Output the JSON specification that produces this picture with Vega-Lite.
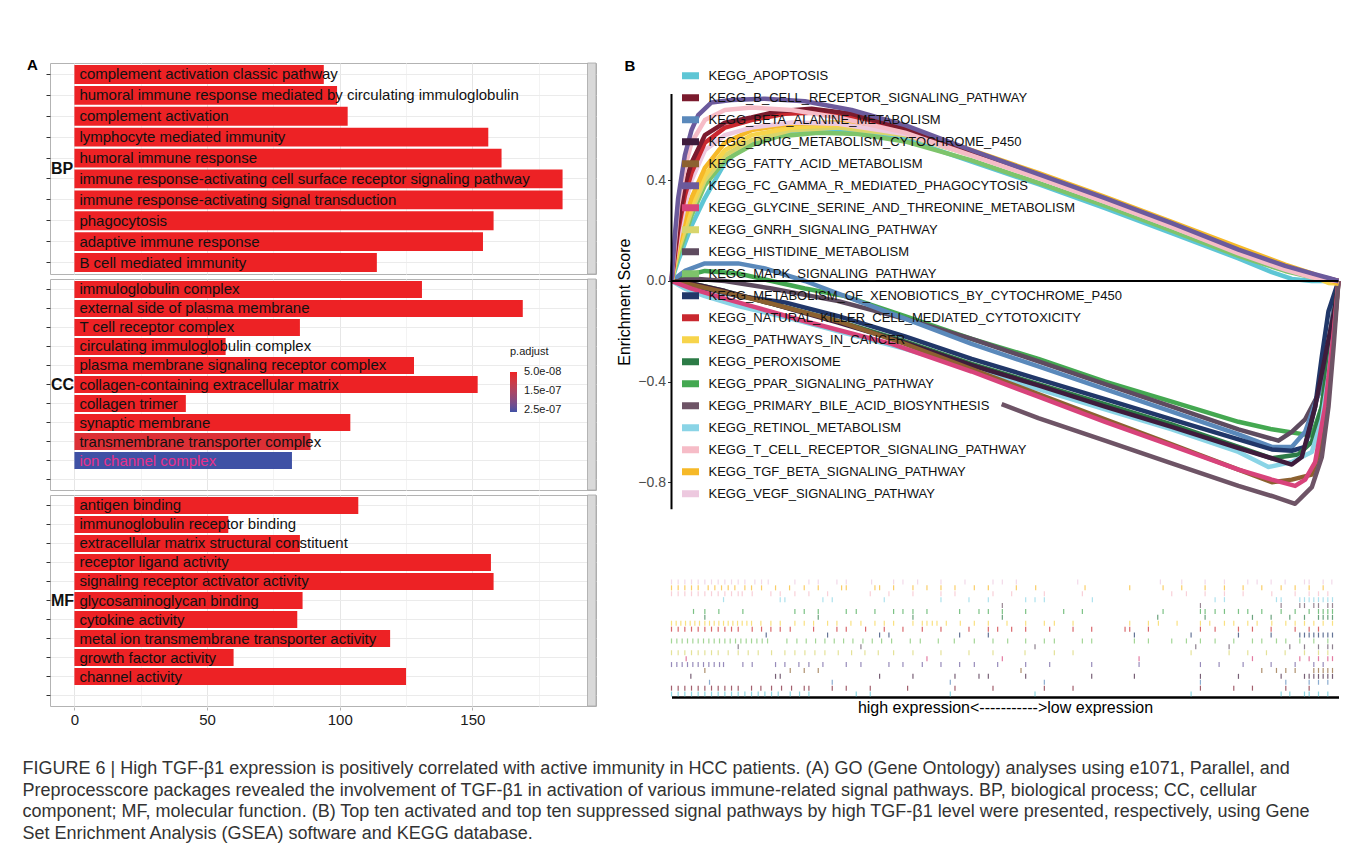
{
"$schema": "https://vega.github.io/schema/vega-lite/v6.json",
"padding": {"left": 22, "top": 57, "right": 5, "bottom": 6},
"background": "white",
"config": {"font": "Liberation Sans", "view": {"stroke": "#b3b3b3"}},
"spacing": 19.5,
"resolve": {"scale": {"color": "independent"}, "legend": {"color": "independent"}},
"title": {"text": ["FIGURE 6 | High TGF-β1 expression is positively correlated with active immunity in HCC patients. (A) GO (Gene Ontology) analyses using e1071, Parallel, and", "Preprocesscore packages revealed the involvement of TGF-β1 in activation of various immune-related signal pathways. BP, biological process; CC, cellular", "component; MF, molecular function. (B) Top ten activated and top ten suppressed signal pathways by high TGF-β1 level were presented, respectively, using Gene", "Set Enrichment Analysis (GSEA) software and KEGG database."], "orient": "bottom", "anchor": "start", "frame": "bounds", "fontSize": 18, "fontWeight": "normal", "color": "#333333", "lineHeight": 21.7, "offset": 33, "dx": -4, "baseline": "top", "limit": 1400},
"datasets": {
"names": [{"k":"APO","name":"KEGG_APOPTOSIS"},{"k":"BCR","name":"KEGG_B_CELL_RECEPTOR_SIGNALING_PATHWAY"},{"k":"BAL","name":"KEGG_BETA_ALANINE_METABOLISM"},{"k":"DRG","name":"KEGG_DRUG_METABOLISM_CYTOCHROME_P450"},{"k":"FAT","name":"KEGG_FATTY_ACID_METABOLISM"},{"k":"FCG","name":"KEGG_FC_GAMMA_R_MEDIATED_PHAGOCYTOSIS"},{"k":"GLY","name":"KEGG_GLYCINE_SERINE_AND_THREONINE_METABOLISM"},{"k":"GNR","name":"KEGG_GNRH_SIGNALING_PATHWAY"},{"k":"HIS","name":"KEGG_HISTIDINE_METABOLISM"},{"k":"MAP","name":"KEGG_MAPK_SIGNALING_PATHWAY"},{"k":"XEN","name":"KEGG_METABOLISM_OF_XENOBIOTICS_BY_CYTOCHROME_P450"},{"k":"NKC","name":"KEGG_NATURAL_KILLER_CELL_MEDIATED_CYTOTOXICITY"},{"k":"PIC","name":"KEGG_PATHWAYS_IN_CANCER"},{"k":"PER","name":"KEGG_PEROXISOME"},{"k":"PPA","name":"KEGG_PPAR_SIGNALING_PATHWAY"},{"k":"PBA","name":"KEGG_PRIMARY_BILE_ACID_BIOSYNTHESIS"},{"k":"RET","name":"KEGG_RETINOL_METABOLISM"},{"k":"TCR","name":"KEGG_T_CELL_RECEPTOR_SIGNALING_PATHWAY"},{"k":"TGF","name":"KEGG_TGF_BETA_SIGNALING_PATHWAY"},{"k":"VEG","name":"KEGG_VEGF_SIGNALING_PATHWAY"}],
"lines": [
{"k":"PPA","r":0,"v":0},{"k":"PPA","r":2,"v":0.02},{"k":"PPA","r":5,"v":0.04},{"k":"PPA","r":10,"v":0.03},{"k":"PPA","r":15,"v":0},{"k":"PPA","r":20,"v":-0.03},{"k":"PPA","r":26,"v":-0.06},{"k":"PPA","r":35,"v":-0.14},{"k":"PPA","r":45,"v":-0.23},{"k":"PPA","r":55,"v":-0.31},{"k":"PPA","r":65,"v":-0.4},{"k":"PPA","r":75,"v":-0.48},{"k":"PPA","r":85,"v":-0.56},{"k":"PPA","r":90,"v":-0.59},{"k":"PPA","r":96,"v":-0.615},{"k":"PPA","r":97.5,"v":-0.5},{"k":"PPA","r":98.5,"v":-0.3},{"k":"PPA","r":99.3,"v":-0.1},{"k":"PPA","r":100,"v":0},
{"k":"HIS","r":0,"v":0},{"k":"HIS","r":3,"v":0.01},{"k":"HIS","r":8,"v":0},{"k":"HIS","r":15,"v":-0.03},{"k":"HIS","r":25,"v":-0.08},{"k":"HIS","r":35,"v":-0.15},{"k":"HIS","r":45,"v":-0.23},{"k":"HIS","r":55,"v":-0.32},{"k":"HIS","r":65,"v":-0.41},{"k":"HIS","r":75,"v":-0.5},{"k":"HIS","r":85,"v":-0.59},{"k":"HIS","r":91,"v":-0.635},{"k":"HIS","r":93,"v":-0.6},{"k":"HIS","r":95,"v":-0.55},{"k":"HIS","r":97,"v":-0.45},{"k":"HIS","r":98.5,"v":-0.25},{"k":"HIS","r":99.5,"v":-0.08},{"k":"HIS","r":100,"v":0},
{"k":"BAL","r":0,"v":0},{"k":"BAL","r":2,"v":0.04},{"k":"BAL","r":5,"v":0.07},{"k":"BAL","r":10,"v":0.07},{"k":"BAL","r":14,"v":0.05},{"k":"BAL","r":20,"v":0},{"k":"BAL","r":28,"v":-0.08},{"k":"BAL","r":35,"v":-0.15},{"k":"BAL","r":45,"v":-0.25},{"k":"BAL","r":55,"v":-0.34},{"k":"BAL","r":65,"v":-0.43},{"k":"BAL","r":75,"v":-0.52},{"k":"BAL","r":85,"v":-0.61},{"k":"BAL","r":90,"v":-0.66},{"k":"BAL","r":93,"v":-0.66},{"k":"BAL","r":95,"v":-0.6},{"k":"BAL","r":97,"v":-0.45},{"k":"BAL","r":98.5,"v":-0.25},{"k":"BAL","r":99.5,"v":-0.08},{"k":"BAL","r":100,"v":0},
{"k":"XEN","r":0,"v":0},{"k":"XEN","r":2,"v":-0.01},{"k":"XEN","r":5,"v":-0.03},{"k":"XEN","r":10,"v":-0.06},{"k":"XEN","r":17,"v":-0.085},{"k":"XEN","r":25,"v":-0.14},{"k":"XEN","r":35,"v":-0.22},{"k":"XEN","r":45,"v":-0.31},{"k":"XEN","r":55,"v":-0.39},{"k":"XEN","r":65,"v":-0.47},{"k":"XEN","r":75,"v":-0.55},{"k":"XEN","r":85,"v":-0.63},{"k":"XEN","r":90,"v":-0.67},{"k":"XEN","r":93,"v":-0.675},{"k":"XEN","r":95,"v":-0.66},{"k":"XEN","r":96.5,"v":-0.5},{"k":"XEN","r":97.5,"v":-0.3},{"k":"XEN","r":98.5,"v":-0.12},{"k":"XEN","r":100,"v":0},
{"k":"PER","r":0,"v":0},{"k":"PER","r":3,"v":-0.01},{"k":"PER","r":8,"v":-0.04},{"k":"PER","r":15,"v":-0.09},{"k":"PER","r":25,"v":-0.16},{"k":"PER","r":35,"v":-0.24},{"k":"PER","r":45,"v":-0.33},{"k":"PER","r":55,"v":-0.41},{"k":"PER","r":65,"v":-0.49},{"k":"PER","r":75,"v":-0.57},{"k":"PER","r":85,"v":-0.66},{"k":"PER","r":90,"v":-0.705},{"k":"PER","r":94,"v":-0.69},{"k":"PER","r":96,"v":-0.64},{"k":"PER","r":97.5,"v":-0.5},{"k":"PER","r":98.5,"v":-0.3},{"k":"PER","r":99.5,"v":-0.1},{"k":"PER","r":100,"v":0},
{"k":"RET","r":0,"v":0},{"k":"RET","r":2,"v":-0.03},{"k":"RET","r":5,"v":-0.06},{"k":"RET","r":10,"v":-0.1},{"k":"RET","r":18,"v":-0.15},{"k":"RET","r":25,"v":-0.2},{"k":"RET","r":35,"v":-0.27},{"k":"RET","r":45,"v":-0.35},{"k":"RET","r":55,"v":-0.43},{"k":"RET","r":65,"v":-0.51},{"k":"RET","r":75,"v":-0.59},{"k":"RET","r":85,"v":-0.68},{"k":"RET","r":89.5,"v":-0.74},{"k":"RET","r":93,"v":-0.72},{"k":"RET","r":96,"v":-0.68},{"k":"RET","r":97.5,"v":-0.55},{"k":"RET","r":98.5,"v":-0.38},{"k":"RET","r":99.3,"v":-0.2},{"k":"RET","r":100,"v":0},
{"k":"DRG","r":0,"v":0},{"k":"DRG","r":3,"v":-0.01},{"k":"DRG","r":8,"v":-0.04},{"k":"DRG","r":15,"v":-0.09},{"k":"DRG","r":25,"v":-0.165},{"k":"DRG","r":35,"v":-0.245},{"k":"DRG","r":45,"v":-0.335},{"k":"DRG","r":55,"v":-0.415},{"k":"DRG","r":65,"v":-0.5},{"k":"DRG","r":75,"v":-0.58},{"k":"DRG","r":85,"v":-0.665},{"k":"DRG","r":90,"v":-0.705},{"k":"DRG","r":93,"v":-0.73},{"k":"DRG","r":94.5,"v":-0.7},{"k":"DRG","r":95.5,"v":-0.6},{"k":"DRG","r":96.5,"v":-0.5},{"k":"DRG","r":98,"v":-0.3},{"k":"DRG","r":99.5,"v":-0.1},{"k":"DRG","r":100,"v":0},
{"k":"FAT","r":0,"v":0},{"k":"FAT","r":3,"v":-0.015},{"k":"FAT","r":8,"v":-0.045},{"k":"FAT","r":15,"v":-0.09},{"k":"FAT","r":25,"v":-0.16},{"k":"FAT","r":35,"v":-0.25},{"k":"FAT","r":45,"v":-0.35},{"k":"FAT","r":55,"v":-0.45},{"k":"FAT","r":65,"v":-0.55},{"k":"FAT","r":75,"v":-0.65},{"k":"FAT","r":85,"v":-0.75},{"k":"FAT","r":90,"v":-0.8},{"k":"FAT","r":93,"v":-0.79},{"k":"FAT","r":96,"v":-0.77},{"k":"FAT","r":97.5,"v":-0.65},{"k":"FAT","r":98.5,"v":-0.45},{"k":"FAT","r":99.5,"v":-0.15},{"k":"FAT","r":100,"v":0},
{"k":"GLY","r":0,"v":0},{"k":"GLY","r":3,"v":-0.03},{"k":"GLY","r":8,"v":-0.07},{"k":"GLY","r":12,"v":-0.1},{"k":"GLY","r":20,"v":-0.16},{"k":"GLY","r":33,"v":-0.25},{"k":"GLY","r":45,"v":-0.36},{"k":"GLY","r":55,"v":-0.46},{"k":"GLY","r":65,"v":-0.56},{"k":"GLY","r":75,"v":-0.655},{"k":"GLY","r":85,"v":-0.75},{"k":"GLY","r":90,"v":-0.79},{"k":"GLY","r":93.5,"v":-0.815},{"k":"GLY","r":95,"v":-0.79},{"k":"GLY","r":96.5,"v":-0.72},{"k":"GLY","r":98,"v":-0.5},{"k":"GLY","r":99.3,"v":-0.2},{"k":"GLY","r":100,"v":0},
{"k":"PBA","r":49.5,"v":-0.49},{"k":"PBA","r":55,"v":-0.545},{"k":"PBA","r":65,"v":-0.635},{"k":"PBA","r":75,"v":-0.725},{"k":"PBA","r":85,"v":-0.815},{"k":"PBA","r":90,"v":-0.855},{"k":"PBA","r":93.5,"v":-0.886},{"k":"PBA","r":94.5,"v":-0.86},{"k":"PBA","r":96,"v":-0.82},{"k":"PBA","r":97.5,"v":-0.7},{"k":"PBA","r":98.5,"v":-0.5},{"k":"PBA","r":99.3,"v":-0.25},{"k":"PBA","r":100,"v":0},
{"k":"APO","r":0,"v":0},{"k":"APO","r":0.5,"v":0.04},{"k":"APO","r":1,"v":0.08},{"k":"APO","r":2,"v":0.15},{"k":"APO","r":3,"v":0.22},{"k":"APO","r":5,"v":0.33},{"k":"APO","r":8,"v":0.47},{"k":"APO","r":11,"v":0.54},{"k":"APO","r":15,"v":0.58},{"k":"APO","r":20,"v":0.6},{"k":"APO","r":26,"v":0.6},{"k":"APO","r":35,"v":0.565},{"k":"APO","r":45,"v":0.475},{"k":"APO","r":55,"v":0.385},{"k":"APO","r":65,"v":0.29},{"k":"APO","r":75,"v":0.19},{"k":"APO","r":85,"v":0.09},{"k":"APO","r":90,"v":0.035},{"k":"APO","r":93,"v":0.008},{"k":"APO","r":96,"v":0},{"k":"APO","r":100,"v":0},
{"k":"MAP","r":0,"v":0},{"k":"MAP","r":0.5,"v":0.05},{"k":"MAP","r":1,"v":0.1},{"k":"MAP","r":2,"v":0.18},{"k":"MAP","r":3,"v":0.26},{"k":"MAP","r":5,"v":0.38},{"k":"MAP","r":8,"v":0.48},{"k":"MAP","r":12,"v":0.54},{"k":"MAP","r":16,"v":0.575},{"k":"MAP","r":22,"v":0.59},{"k":"MAP","r":28,"v":0.585},{"k":"MAP","r":35,"v":0.555},{"k":"MAP","r":45,"v":0.48},{"k":"MAP","r":55,"v":0.39},{"k":"MAP","r":65,"v":0.3},{"k":"MAP","r":75,"v":0.2},{"k":"MAP","r":85,"v":0.1},{"k":"MAP","r":92,"v":0.04},{"k":"MAP","r":96,"v":0.015},{"k":"MAP","r":98.5,"v":0.005},{"k":"MAP","r":100,"v":0},
{"k":"GNR","r":0,"v":0},{"k":"GNR","r":0.5,"v":0.06},{"k":"GNR","r":1,"v":0.12},{"k":"GNR","r":2,"v":0.2},{"k":"GNR","r":3,"v":0.28},{"k":"GNR","r":5,"v":0.4},{"k":"GNR","r":8,"v":0.5},{"k":"GNR","r":12,"v":0.56},{"k":"GNR","r":18,"v":0.6},{"k":"GNR","r":25,"v":0.61},{"k":"GNR","r":35,"v":0.58},{"k":"GNR","r":45,"v":0.5},{"k":"GNR","r":55,"v":0.41},{"k":"GNR","r":65,"v":0.32},{"k":"GNR","r":75,"v":0.22},{"k":"GNR","r":85,"v":0.12},{"k":"GNR","r":92,"v":0.05},{"k":"GNR","r":96,"v":0.02},{"k":"GNR","r":98.5,"v":0.005},{"k":"GNR","r":100,"v":0},
{"k":"PIC","r":0,"v":0},{"k":"PIC","r":0.5,"v":0.07},{"k":"PIC","r":1,"v":0.13},{"k":"PIC","r":2,"v":0.22},{"k":"PIC","r":3,"v":0.3},{"k":"PIC","r":5,"v":0.42},{"k":"PIC","r":8,"v":0.52},{"k":"PIC","r":12,"v":0.58},{"k":"PIC","r":18,"v":0.61},{"k":"PIC","r":25,"v":0.62},{"k":"PIC","r":35,"v":0.59},{"k":"PIC","r":45,"v":0.51},{"k":"PIC","r":55,"v":0.42},{"k":"PIC","r":65,"v":0.33},{"k":"PIC","r":75,"v":0.23},{"k":"PIC","r":85,"v":0.13},{"k":"PIC","r":92,"v":0.06},{"k":"PIC","r":96,"v":0.02},{"k":"PIC","r":98.5,"v":-0.008},{"k":"PIC","r":100,"v":-0.01},
{"k":"TGF","r":0,"v":0},{"k":"TGF","r":0.5,"v":0.08},{"k":"TGF","r":1,"v":0.15},{"k":"TGF","r":2,"v":0.25},{"k":"TGF","r":3,"v":0.33},{"k":"TGF","r":5,"v":0.45},{"k":"TGF","r":8,"v":0.55},{"k":"TGF","r":12,"v":0.6},{"k":"TGF","r":18,"v":0.625},{"k":"TGF","r":25,"v":0.63},{"k":"TGF","r":35,"v":0.6},{"k":"TGF","r":45,"v":0.52},{"k":"TGF","r":55,"v":0.43},{"k":"TGF","r":65,"v":0.335},{"k":"TGF","r":75,"v":0.235},{"k":"TGF","r":85,"v":0.135},{"k":"TGF","r":92,"v":0.065},{"k":"TGF","r":96,"v":0.03},{"k":"TGF","r":98.5,"v":0.005},{"k":"TGF","r":100,"v":-0.01},
{"k":"VEG","r":0,"v":0},{"k":"VEG","r":0.5,"v":0.09},{"k":"VEG","r":1,"v":0.17},{"k":"VEG","r":2,"v":0.3},{"k":"VEG","r":3,"v":0.4},{"k":"VEG","r":5,"v":0.52},{"k":"VEG","r":8,"v":0.58},{"k":"VEG","r":12,"v":0.61},{"k":"VEG","r":18,"v":0.63},{"k":"VEG","r":25,"v":0.625},{"k":"VEG","r":35,"v":0.585},{"k":"VEG","r":45,"v":0.5},{"k":"VEG","r":55,"v":0.41},{"k":"VEG","r":65,"v":0.315},{"k":"VEG","r":75,"v":0.215},{"k":"VEG","r":85,"v":0.115},{"k":"VEG","r":92,"v":0.05},{"k":"VEG","r":96,"v":0.02},{"k":"VEG","r":98.5,"v":0.005},{"k":"VEG","r":100,"v":0},
{"k":"NKC","r":0,"v":0},{"k":"NKC","r":0.5,"v":0.1},{"k":"NKC","r":1,"v":0.2},{"k":"NKC","r":2,"v":0.34},{"k":"NKC","r":3,"v":0.43},{"k":"NKC","r":5,"v":0.55},{"k":"NKC","r":8,"v":0.61},{"k":"NKC","r":12,"v":0.64},{"k":"NKC","r":17,"v":0.665},{"k":"NKC","r":22,"v":0.67},{"k":"NKC","r":28,"v":0.645},{"k":"NKC","r":35,"v":0.6},{"k":"NKC","r":45,"v":0.51},{"k":"NKC","r":55,"v":0.415},{"k":"NKC","r":65,"v":0.32},{"k":"NKC","r":75,"v":0.22},{"k":"NKC","r":85,"v":0.115},{"k":"NKC","r":92,"v":0.05},{"k":"NKC","r":96,"v":0.02},{"k":"NKC","r":98.5,"v":0.008},{"k":"NKC","r":100,"v":0},
{"k":"BCR","r":0,"v":0},{"k":"BCR","r":0.5,"v":0.12},{"k":"BCR","r":1,"v":0.22},{"k":"BCR","r":2,"v":0.38},{"k":"BCR","r":3,"v":0.47},{"k":"BCR","r":5,"v":0.58},{"k":"BCR","r":8,"v":0.63},{"k":"BCR","r":12,"v":0.65},{"k":"BCR","r":16,"v":0.675},{"k":"BCR","r":21,"v":0.685},{"k":"BCR","r":27,"v":0.665},{"k":"BCR","r":35,"v":0.605},{"k":"BCR","r":45,"v":0.515},{"k":"BCR","r":55,"v":0.42},{"k":"BCR","r":65,"v":0.325},{"k":"BCR","r":75,"v":0.225},{"k":"BCR","r":85,"v":0.12},{"k":"BCR","r":92,"v":0.055},{"k":"BCR","r":96,"v":0.025},{"k":"BCR","r":98.5,"v":0.01},{"k":"BCR","r":100,"v":0},
{"k":"TCR","r":0,"v":0},{"k":"TCR","r":0.5,"v":0.15},{"k":"TCR","r":1,"v":0.3},{"k":"TCR","r":2,"v":0.45},{"k":"TCR","r":3,"v":0.55},{"k":"TCR","r":5,"v":0.64},{"k":"TCR","r":8,"v":0.68},{"k":"TCR","r":12,"v":0.69},{"k":"TCR","r":18,"v":0.68},{"k":"TCR","r":25,"v":0.65},{"k":"TCR","r":35,"v":0.59},{"k":"TCR","r":45,"v":0.5},{"k":"TCR","r":55,"v":0.41},{"k":"TCR","r":65,"v":0.315},{"k":"TCR","r":75,"v":0.215},{"k":"TCR","r":85,"v":0.11},{"k":"TCR","r":92,"v":0.045},{"k":"TCR","r":96,"v":0.015},{"k":"TCR","r":98.5,"v":0.005},{"k":"TCR","r":100,"v":0},
{"k":"FCG","r":0,"v":0},{"k":"FCG","r":0.5,"v":0.18},{"k":"FCG","r":1,"v":0.33},{"k":"FCG","r":2,"v":0.5},{"k":"FCG","r":3,"v":0.6},{"k":"FCG","r":4,"v":0.66},{"k":"FCG","r":6,"v":0.71},{"k":"FCG","r":9,"v":0.72},{"k":"FCG","r":14,"v":0.725},{"k":"FCG","r":20,"v":0.715},{"k":"FCG","r":27,"v":0.68},{"k":"FCG","r":35,"v":0.62},{"k":"FCG","r":45,"v":0.52},{"k":"FCG","r":55,"v":0.425},{"k":"FCG","r":65,"v":0.33},{"k":"FCG","r":75,"v":0.23},{"k":"FCG","r":85,"v":0.125},{"k":"FCG","r":92,"v":0.06},{"k":"FCG","r":96,"v":0.03},{"k":"FCG","r":98.5,"v":0.012},{"k":"FCG","r":100,"v":0}
],
"rug": [
{"k":"VEG","r":0},{"k":"VEG","r":1},{"k":"VEG","r":2},{"k":"VEG","r":3},{"k":"VEG","r":4},{"k":"VEG","r":5},{"k":"VEG","r":6},{"k":"VEG","r":7},{"k":"VEG","r":8},{"k":"VEG","r":9},{"k":"VEG","r":10},{"k":"VEG","r":11},{"k":"VEG","r":12.5},{"k":"VEG","r":13.5},{"k":"VEG","r":14.5},{"k":"VEG","r":18.5},{"k":"VEG","r":20.6},{"k":"VEG","r":22},{"k":"VEG","r":24.8},{"k":"VEG","r":26.2},{"k":"VEG","r":30},{"k":"VEG","r":33.3},{"k":"VEG","r":34.7},{"k":"VEG","r":36.9},{"k":"VEG","r":40.4},{"k":"VEG","r":44},{"k":"VEG","r":48.2},{"k":"VEG","r":49.6},{"k":"VEG","r":51.7},{"k":"VEG","r":60.9},{"k":"VEG","r":73.3},{"k":"VEG","r":76.5},{"k":"VEG","r":80},{"k":"VEG","r":82.9},{"k":"VEG","r":86.4},{"k":"VEG","r":87.8},{"k":"VEG","r":89.9},{"k":"VEG","r":92},{"k":"VEG","r":94.9},{"k":"VEG","r":95.6},{"k":"VEG","r":97.7},{"k":"VEG","r":99},
{"k":"TGF","r":0},{"k":"TGF","r":1},{"k":"TGF","r":2},{"k":"TGF","r":3},{"k":"TGF","r":4},{"k":"TGF","r":5.5},{"k":"TGF","r":6.5},{"k":"TGF","r":7.5},{"k":"TGF","r":8.5},{"k":"TGF","r":9.5},{"k":"TGF","r":11},{"k":"TGF","r":12},{"k":"TGF","r":13.5},{"k":"TGF","r":15.6},{"k":"TGF","r":17.7},{"k":"TGF","r":19.9},{"k":"TGF","r":22},{"k":"TGF","r":25.5},{"k":"TGF","r":26.2},{"k":"TGF","r":30.5},{"k":"TGF","r":31.2},{"k":"TGF","r":33.3},{"k":"TGF","r":36.2},{"k":"TGF","r":38.3},{"k":"TGF","r":40.4},{"k":"TGF","r":42.5},{"k":"TGF","r":45.4},{"k":"TGF","r":47.5},{"k":"TGF","r":51.7},{"k":"TGF","r":54.6},{"k":"TGF","r":62},{"k":"TGF","r":68.7},{"k":"TGF","r":73.7},{"k":"TGF","r":76.5},{"k":"TGF","r":80},{"k":"TGF","r":82.9},{"k":"TGF","r":85.7},{"k":"TGF","r":88.5},{"k":"TGF","r":91.4},{"k":"TGF","r":93.5},{"k":"TGF","r":95.6},{"k":"TGF","r":97.7},
{"k":"TCR","r":0},{"k":"TCR","r":1},{"k":"TCR","r":2},{"k":"TCR","r":3},{"k":"TCR","r":4},{"k":"TCR","r":5},{"k":"TCR","r":6},{"k":"TCR","r":7},{"k":"TCR","r":8},{"k":"TCR","r":9},{"k":"TCR","r":10},{"k":"TCR","r":10.6},{"k":"TCR","r":12.1},{"k":"TCR","r":14.9},{"k":"TCR","r":16.3},{"k":"TCR","r":18.5},{"k":"TCR","r":20.6},{"k":"TCR","r":23.4},{"k":"TCR","r":29.8},{"k":"TCR","r":32.6},{"k":"TCR","r":36.2},{"k":"TCR","r":40.4},{"k":"TCR","r":42.5},{"k":"TCR","r":48.2},{"k":"TCR","r":51},{"k":"TCR","r":55.9},{"k":"TCR","r":61.6},{"k":"TCR","r":75},{"k":"TCR","r":77.2},{"k":"TCR","r":80},{"k":"TCR","r":82.9},{"k":"TCR","r":85.7},{"k":"TCR","r":90},{"k":"TCR","r":93.5},{"k":"TCR","r":95.6},{"k":"TCR","r":97},{"k":"TCR","r":98.4},
{"k":"RET","r":7.8},{"k":"RET","r":16.3},{"k":"RET","r":17},{"k":"RET","r":22.7},{"k":"RET","r":24.1},{"k":"RET","r":31.9},{"k":"RET","r":40.4},{"k":"RET","r":44.6},{"k":"RET","r":47.5},{"k":"RET","r":53.1},{"k":"RET","r":54.5},{"k":"RET","r":55.9},{"k":"RET","r":63.1},{"k":"RET","r":81.5},{"k":"RET","r":82.9},{"k":"RET","r":90.7},{"k":"RET","r":91.4},{"k":"RET","r":94.2},{"k":"RET","r":94.9},{"k":"RET","r":95.6},{"k":"RET","r":96.3},{"k":"RET","r":97},{"k":"RET","r":97.7},{"k":"RET","r":98.4},{"k":"RET","r":99.1},
{"k":"PBA","r":49.6},{"k":"PBA","r":79.3},{"k":"PBA","r":91.4},{"k":"PBA","r":94.2},{"k":"PBA","r":94.9},{"k":"PBA","r":96.3},{"k":"PBA","r":97},{"k":"PBA","r":98.4},{"k":"PBA","r":99.1},
{"k":"PPA","r":3.3},{"k":"PPA","r":5},{"k":"PPA","r":7.1},{"k":"PPA","r":10.7},{"k":"PPA","r":18.5},{"k":"PPA","r":19.9},{"k":"PPA","r":22},{"k":"PPA","r":26.2},{"k":"PPA","r":27.7},{"k":"PPA","r":30.5},{"k":"PPA","r":33.3},{"k":"PPA","r":34.7},{"k":"PPA","r":36.2},{"k":"PPA","r":38.3},{"k":"PPA","r":43.2},{"k":"PPA","r":46.1},{"k":"PPA","r":47.5},{"k":"PPA","r":49.6},{"k":"PPA","r":53.1},{"k":"PPA","r":58.8},{"k":"PPA","r":61.6},{"k":"PPA","r":73.7},{"k":"PPA","r":79.3},{"k":"PPA","r":80},{"k":"PPA","r":81.5},{"k":"PPA","r":82.9},{"k":"PPA","r":85},{"k":"PPA","r":86.4},{"k":"PPA","r":88.5},{"k":"PPA","r":91.4},{"k":"PPA","r":93.5},{"k":"PPA","r":95.6},{"k":"PPA","r":97},{"k":"PPA","r":97.7},{"k":"PPA","r":98.4},{"k":"PPA","r":99.1},
{"k":"PER","r":5},{"k":"PER","r":22},{"k":"PER","r":36.2},{"k":"PER","r":49.6},{"k":"PER","r":72.9},{"k":"PER","r":80},{"k":"PER","r":87.1},{"k":"PER","r":89.9},{"k":"PER","r":92.7},{"k":"PER","r":94.9},{"k":"PER","r":97},{"k":"PER","r":97.7},{"k":"PER","r":98.4},{"k":"PER","r":99.1},
{"k":"PIC","r":0},{"k":"PIC","r":0.7},{"k":"PIC","r":1.4},{"k":"PIC","r":2.1},{"k":"PIC","r":2.8},{"k":"PIC","r":3.5},{"k":"PIC","r":4.2},{"k":"PIC","r":5},{"k":"PIC","r":5.7},{"k":"PIC","r":6.4},{"k":"PIC","r":7.1},{"k":"PIC","r":7.8},{"k":"PIC","r":8.5},{"k":"PIC","r":9.2},{"k":"PIC","r":9.9},{"k":"PIC","r":10.6},{"k":"PIC","r":11.3},{"k":"PIC","r":12},{"k":"PIC","r":13.4},{"k":"PIC","r":14.9},{"k":"PIC","r":16.3},{"k":"PIC","r":18.5},{"k":"PIC","r":19.9},{"k":"PIC","r":21.3},{"k":"PIC","r":23.4},{"k":"PIC","r":24.8},{"k":"PIC","r":26.9},{"k":"PIC","r":28.4},{"k":"PIC","r":30.5},{"k":"PIC","r":31.9},{"k":"PIC","r":33.3},{"k":"PIC","r":36.2},{"k":"PIC","r":37.6},{"k":"PIC","r":38.3},{"k":"PIC","r":39.1},{"k":"PIC","r":39.8},{"k":"PIC","r":41.2},{"k":"PIC","r":43.3},{"k":"PIC","r":45.4},{"k":"PIC","r":47.5},{"k":"PIC","r":50.3},{"k":"PIC","r":53.1},{"k":"PIC","r":55.9},{"k":"PIC","r":57.4},{"k":"PIC","r":60.2},{"k":"PIC","r":68.7},{"k":"PIC","r":71.5},{"k":"PIC","r":73},{"k":"PIC","r":75.8},{"k":"PIC","r":79.3},{"k":"PIC","r":80.7},{"k":"PIC","r":82.9},{"k":"PIC","r":84.3},{"k":"PIC","r":86.4},{"k":"PIC","r":87.8},{"k":"PIC","r":90},{"k":"PIC","r":92.1},{"k":"PIC","r":93.5},{"k":"PIC","r":94.9},{"k":"PIC","r":96.3},{"k":"PIC","r":97.7},{"k":"PIC","r":99.1},
{"k":"NKC","r":0},{"k":"NKC","r":1},{"k":"NKC","r":2},{"k":"NKC","r":3},{"k":"NKC","r":4},{"k":"NKC","r":5},{"k":"NKC","r":6},{"k":"NKC","r":7},{"k":"NKC","r":8},{"k":"NKC","r":9},{"k":"NKC","r":10},{"k":"NKC","r":12.1},{"k":"NKC","r":13.5},{"k":"NKC","r":14.9},{"k":"NKC","r":16.3},{"k":"NKC","r":17.8},{"k":"NKC","r":21.3},{"k":"NKC","r":24.8},{"k":"NKC","r":26.2},{"k":"NKC","r":29.1},{"k":"NKC","r":31.9},{"k":"NKC","r":34.7},{"k":"NKC","r":37.6},{"k":"NKC","r":40.4},{"k":"NKC","r":44.6},{"k":"NKC","r":47.5},{"k":"NKC","r":48.9},{"k":"NKC","r":51},{"k":"NKC","r":53.1},{"k":"NKC","r":56.7},{"k":"NKC","r":60.2},{"k":"NKC","r":63},{"k":"NKC","r":68},{"k":"NKC","r":68.7},{"k":"NKC","r":71.5},{"k":"NKC","r":79.3},{"k":"NKC","r":81.5},{"k":"NKC","r":85},{"k":"NKC","r":87.1},{"k":"NKC","r":89.9},{"k":"NKC","r":93.5},{"k":"NKC","r":95.6},{"k":"NKC","r":97},
{"k":"XEN","r":14.2},{"k":"XEN","r":23.4},{"k":"XEN","r":31.2},{"k":"XEN","r":32.6},{"k":"XEN","r":43.2},{"k":"XEN","r":47.5},{"k":"XEN","r":69.4},{"k":"XEN","r":77.9},{"k":"XEN","r":85},{"k":"XEN","r":89.9},{"k":"XEN","r":94.2},{"k":"XEN","r":94.9},{"k":"XEN","r":95.6},{"k":"XEN","r":96.3},{"k":"XEN","r":97},{"k":"XEN","r":97.7},{"k":"XEN","r":98.4},{"k":"XEN","r":99.1},
{"k":"MAP","r":0},{"k":"MAP","r":0.8},{"k":"MAP","r":1.6},{"k":"MAP","r":2.4},{"k":"MAP","r":3.2},{"k":"MAP","r":4},{"k":"MAP","r":4.8},{"k":"MAP","r":5.6},{"k":"MAP","r":6.4},{"k":"MAP","r":7.2},{"k":"MAP","r":8},{"k":"MAP","r":8.8},{"k":"MAP","r":9.6},{"k":"MAP","r":10.4},{"k":"MAP","r":11.2},{"k":"MAP","r":12},{"k":"MAP","r":12.8},{"k":"MAP","r":13.6},{"k":"MAP","r":14.4},{"k":"MAP","r":17.3},{"k":"MAP","r":18.8},{"k":"MAP","r":20.2},{"k":"MAP","r":21.6},{"k":"MAP","r":23},{"k":"MAP","r":24.4},{"k":"MAP","r":25.8},{"k":"MAP","r":27.2},{"k":"MAP","r":28.7},{"k":"MAP","r":30.1},{"k":"MAP","r":31.5},{"k":"MAP","r":33},{"k":"MAP","r":35.8},{"k":"MAP","r":37.3},{"k":"MAP","r":40},{"k":"MAP","r":42.4},{"k":"MAP","r":45.4},{"k":"MAP","r":48.2},{"k":"MAP","r":50.4},{"k":"MAP","r":53.1},{"k":"MAP","r":55.9},{"k":"MAP","r":57.4},{"k":"MAP","r":61.6},{"k":"MAP","r":63},{"k":"MAP","r":69.4},{"k":"MAP","r":71.5},{"k":"MAP","r":75},{"k":"MAP","r":77.2},{"k":"MAP","r":79.3},{"k":"MAP","r":81.5},{"k":"MAP","r":84.3},{"k":"MAP","r":87.1},{"k":"MAP","r":88.5},{"k":"MAP","r":90.7},{"k":"MAP","r":92.1},{"k":"MAP","r":94.2},{"k":"MAP","r":96.3},{"k":"MAP","r":98.4},
{"k":"HIS","r":10},{"k":"HIS","r":28.4},{"k":"HIS","r":54.5},{"k":"HIS","r":78.6},{"k":"HIS","r":83.6},{"k":"HIS","r":92.7},{"k":"HIS","r":94.9},{"k":"HIS","r":97},{"k":"HIS","r":98.4},{"k":"HIS","r":99.1},
{"k":"GNR","r":0},{"k":"GNR","r":1},{"k":"GNR","r":2},{"k":"GNR","r":3},{"k":"GNR","r":4},{"k":"GNR","r":5},{"k":"GNR","r":6},{"k":"GNR","r":7},{"k":"GNR","r":8.5},{"k":"GNR","r":10},{"k":"GNR","r":11.5},{"k":"GNR","r":13},{"k":"GNR","r":15},{"k":"GNR","r":17},{"k":"GNR","r":18.5},{"k":"GNR","r":20},{"k":"GNR","r":21.5},{"k":"GNR","r":23},{"k":"GNR","r":25},{"k":"GNR","r":27},{"k":"GNR","r":29},{"k":"GNR","r":31},{"k":"GNR","r":33.3},{"k":"GNR","r":36.2},{"k":"GNR","r":40.4},{"k":"GNR","r":44.6},{"k":"GNR","r":48.2},{"k":"GNR","r":53},{"k":"GNR","r":57.4},{"k":"GNR","r":60.2},{"k":"GNR","r":77.9},{"k":"GNR","r":83.6},{"k":"GNR","r":86.4},{"k":"GNR","r":89.2},{"k":"GNR","r":92},{"k":"GNR","r":94.9},{"k":"GNR","r":97},{"k":"GNR","r":98.4},
{"k":"GLY","r":2.2},{"k":"GLY","r":38.3},{"k":"GLY","r":49.6},{"k":"GLY","r":70.1},{"k":"GLY","r":87.1},{"k":"GLY","r":94.2},{"k":"GLY","r":95.6},{"k":"GLY","r":97},{"k":"GLY","r":98.4},{"k":"GLY","r":99.1},
{"k":"FCG","r":0},{"k":"FCG","r":0.8},{"k":"FCG","r":1.6},{"k":"FCG","r":2.4},{"k":"FCG","r":3.2},{"k":"FCG","r":4},{"k":"FCG","r":4.8},{"k":"FCG","r":5.6},{"k":"FCG","r":6.4},{"k":"FCG","r":7.2},{"k":"FCG","r":7.8},{"k":"FCG","r":10.7},{"k":"FCG","r":12.1},{"k":"FCG","r":15.6},{"k":"FCG","r":17},{"k":"FCG","r":19.1},{"k":"FCG","r":20.6},{"k":"FCG","r":22.7},{"k":"FCG","r":26.2},{"k":"FCG","r":28.4},{"k":"FCG","r":32.6},{"k":"FCG","r":34.7},{"k":"FCG","r":37.6},{"k":"FCG","r":40.4},{"k":"FCG","r":43.2},{"k":"FCG","r":45.4},{"k":"FCG","r":48.9},{"k":"FCG","r":53.1},{"k":"FCG","r":56.7},{"k":"FCG","r":63},{"k":"FCG","r":70.1},{"k":"FCG","r":79.3},{"k":"FCG","r":82.1},{"k":"FCG","r":85.7},{"k":"FCG","r":89.9},{"k":"FCG","r":93.5},{"k":"FCG","r":96.3},{"k":"FCG","r":97.7},
{"k":"FAT","r":5},{"k":"FAT","r":17.8},{"k":"FAT","r":19.9},{"k":"FAT","r":22},{"k":"FAT","r":52.4},{"k":"FAT","r":88.5},{"k":"FAT","r":90.7},{"k":"FAT","r":92.1},{"k":"FAT","r":93.5},{"k":"FAT","r":96.3},{"k":"FAT","r":97},{"k":"FAT","r":97.7},{"k":"FAT","r":98.4},{"k":"FAT","r":99.1},
{"k":"DRG","r":2.9},{"k":"DRG","r":15.6},{"k":"DRG","r":16.3},{"k":"DRG","r":31.2},{"k":"DRG","r":36.2},{"k":"DRG","r":42.5},{"k":"DRG","r":46.1},{"k":"DRG","r":47.5},{"k":"DRG","r":53.1},{"k":"DRG","r":63},{"k":"DRG","r":69.4},{"k":"DRG","r":79.3},{"k":"DRG","r":85},{"k":"DRG","r":91.4},{"k":"DRG","r":94.9},{"k":"DRG","r":95.6},{"k":"DRG","r":96.3},{"k":"DRG","r":97},{"k":"DRG","r":97.7},{"k":"DRG","r":98.4},{"k":"DRG","r":99.1},
{"k":"BAL","r":5.7},{"k":"BAL","r":24.1},{"k":"BAL","r":41.8},{"k":"BAL","r":55.9},{"k":"BAL","r":79.3},{"k":"BAL","r":92.1},{"k":"BAL","r":95.6},{"k":"BAL","r":97},{"k":"BAL","r":98.4},
{"k":"BCR","r":0},{"k":"BCR","r":1},{"k":"BCR","r":2},{"k":"BCR","r":3},{"k":"BCR","r":4},{"k":"BCR","r":5},{"k":"BCR","r":6},{"k":"BCR","r":7},{"k":"BCR","r":8},{"k":"BCR","r":9},{"k":"BCR","r":10},{"k":"BCR","r":12},{"k":"BCR","r":13.4},{"k":"BCR","r":15},{"k":"BCR","r":16.5},{"k":"BCR","r":18},{"k":"BCR","r":19.9},{"k":"BCR","r":20.6},{"k":"BCR","r":24.1},{"k":"BCR","r":26.2},{"k":"BCR","r":29.8},{"k":"BCR","r":35.4},{"k":"BCR","r":42.5},{"k":"BCR","r":48.2},{"k":"BCR","r":55.9},{"k":"BCR","r":60.2},{"k":"BCR","r":79.3},{"k":"BCR","r":84.3},{"k":"BCR","r":87.1},{"k":"BCR","r":92.1},{"k":"BCR","r":95.6},
{"k":"APO","r":0},{"k":"APO","r":1},{"k":"APO","r":2},{"k":"APO","r":3},{"k":"APO","r":4},{"k":"APO","r":5},{"k":"APO","r":6},{"k":"APO","r":7},{"k":"APO","r":8},{"k":"APO","r":9},{"k":"APO","r":10},{"k":"APO","r":11},{"k":"APO","r":12},{"k":"APO","r":13},{"k":"APO","r":14},{"k":"APO","r":15},{"k":"APO","r":16},{"k":"APO","r":17.8},{"k":"APO","r":19.2},{"k":"APO","r":20.6},{"k":"APO","r":27.7},{"k":"APO","r":29.8},{"k":"APO","r":41.8},{"k":"APO","r":54.5},{"k":"APO","r":77.9},{"k":"APO","r":91.4},{"k":"APO","r":92.7},{"k":"APO","r":94.9},{"k":"APO","r":95.6},{"k":"APO","r":97},{"k":"APO","r":98.4}
]
},
"hconcat": [
{
"data": {"values": [
{"cat":"BP","term":"complement activation classic pathway","n":94,"p":5e-8},
{"cat":"BP","term":"humoral immune response mediated by circulating immuloglobulin","n":99,"p":5e-8},
{"cat":"BP","term":"complement activation","n":103,"p":5e-8},
{"cat":"BP","term":"lymphocyte mediated immunity","n":156,"p":5e-8},
{"cat":"BP","term":"humoral immune response","n":161,"p":5e-8},
{"cat":"BP","term":"immune response-activating cell surface receptor signaling pathway","n":184,"p":5e-8},
{"cat":"BP","term":"immune response-activating signal transduction","n":184,"p":5e-8},
{"cat":"BP","term":"phagocytosis","n":158,"p":5e-8},
{"cat":"BP","term":"adaptive immune response","n":154,"p":5e-8},
{"cat":"BP","term":"B cell mediated immunity","n":114,"p":5e-8},
{"cat":"CC","term":"immuloglobulin complex","n":131,"p":5e-8},
{"cat":"CC","term":"external side of plasma membrane","n":169,"p":5e-8},
{"cat":"CC","term":"T cell receptor complex","n":85,"p":5e-8},
{"cat":"CC","term":"circulating immuloglobulin complex","n":57,"p":5e-8},
{"cat":"CC","term":"plasma membrane signaling receptor complex","n":128,"p":5e-8},
{"cat":"CC","term":"collagen-containing extracellular matrix","n":152,"p":5e-8},
{"cat":"CC","term":"collagen trimer","n":42,"p":5e-8},
{"cat":"CC","term":"synaptic membrane","n":104,"p":5e-8},
{"cat":"CC","term":"transmembrane transporter complex","n":89,"p":7.5e-8},
{"cat":"CC","term":"ion channel complex","n":82,"p":2.6e-7},
{"cat":"MF","term":"antigen binding","n":107,"p":5e-8},
{"cat":"MF","term":"immunoglobulin receptor binding","n":58,"p":5e-8},
{"cat":"MF","term":"extracellular matrix structural constituent","n":85,"p":5e-8},
{"cat":"MF","term":"receptor ligand activity","n":157,"p":5e-8},
{"cat":"MF","term":"signaling receptor activator activity","n":158,"p":5e-8},
{"cat":"MF","term":"glycosaminoglycan binding","n":86,"p":5e-8},
{"cat":"MF","term":"cytokine activity","n":84,"p":5e-8},
{"cat":"MF","term":"metal ion transmembrane transporter activity","n":119,"p":5e-8},
{"cat":"MF","term":"growth factor activity","n":60,"p":5e-8},
{"cat":"MF","term":"channel activity","n":125,"p":5e-8}
]},
"facet": {"row": {"field": "cat", "type": "nominal", "header": null}},
"spacing": 3,
"resolve": {"scale": {"y": "independent"}},
"spec": {
"width": 546, "height": 211,
"layer": [
{"mark": {"type": "bar"},
 "encoding": {
  "y": {"field": "term", "type": "nominal", "sort": null, "scale": {"paddingInner": 0.1, "paddingOuter": 0.1}, "axis": {"title": null, "labels": false, "domain": false, "ticks": true, "tickColor": "#333333", "tickSize": 4, "grid": true, "gridColor": "#ebebeb", "bandPosition": 0.5}},
  "x": {"field": "n", "type": "quantitative", "scale": {"domain": [-9.2, 196.6], "nice": false, "zero": false}, "axis": {"title": null, "values": [0, 25, 50, 75, 100, 125, 150, 175], "labelExpr": "datum.value % 50 == 0 ? datum.label : ''", "grid": true, "gridColor": {"condition": {"test": "datum.value % 50 == 0", "value": "#e6e6e6"}, "value": "#f3f3f3"}, "tickOpacity": {"condition": {"test": "datum.value % 50 == 0", "value": 1}, "value": 0}, "tickColor": "#b3b3b3", "tickSize": 3, "domain": false, "labelFontSize": 15, "labelColor": "#1a1a1a", "labelPadding": 2}},
  "x2": {"datum": 0},
  "color": {"field": "p", "type": "quantitative", "scale": {"domain": [2.6e-7, 4.8e-8], "range": ["#3f51a5", "#ee2024"], "interpolate": "lab"}, "legend": {"title": "p.adjust", "orient": "none", "legendX": 460, "legendY": 283, "values": [5e-8, 1.5e-7, 2.5e-7], "labelExpr": "replace(format(datum.value, '.1e'), 'e-', 'e-0')", "gradientLength": 40, "gradientThickness": 7, "gradientStrokeWidth": 0, "titleFontSize": 11, "titleFontWeight": "normal", "titleColor": "#1a1a1a", "titlePadding": 15, "labelFontSize": 11, "labelColor": "#1a1a1a", "labelOffset": 7}}
 }},
{"mark": {"type": "text", "align": "left", "baseline": "middle", "dx": 5, "fontSize": 15},
 "encoding": {
  "y": {"field": "term", "type": "nominal", "sort": null},
  "x": {"datum": 0, "type": "quantitative"},
  "text": {"field": "term"},
  "color": {"condition": {"test": "datum.p > 2e-7", "value": "#e8308a"}, "value": "#111111"}
 }},
{"transform": [{"aggregate": [{"op": "count", "as": "cnt"}], "groupby": ["cat"]}],
 "mark": {"type": "text", "align": "left", "baseline": "middle", "dx": 1, "fontSize": 16, "fontWeight": "bold", "color": "#111111"},
 "encoding": {"x": {"datum": -9.2, "type": "quantitative"}, "text": {"field": "cat"}}},
{"transform": [{"aggregate": [{"op": "count", "as": "cnt"}], "groupby": ["cat"]}, {"filter": "datum.cat == 'BP'"}],
 "mark": {"type": "text", "text": "A", "align": "left", "baseline": "middle", "dx": -23, "dy": -9, "fontSize": 15, "fontWeight": "bold", "color": "black"},
 "encoding": {"x": {"datum": -9.2, "type": "quantitative"}, "y": {"datum": "complement activation classic pathway", "type": "nominal"}}},
{"transform": [{"aggregate": [{"op": "count", "as": "cnt"}], "groupby": ["cat"]}],
 "mark": {"type": "rect", "color": "#d9d9d9", "stroke": "#a6a6a6", "strokeWidth": 0.8},
 "encoding": {"x": {"datum": 193.4, "type": "quantitative"}, "x2": {"datum": 196.6}}}
]
}
},
{
"spacing": 69,
"bounds": "flush",
"resolve": {"scale": {"color": "independent"}, "legend": {"color": "independent"}},
"vconcat": [
{
"width": 667, "height": 446.3,
"view": {"stroke": null},
"layer": [
{"data": {"name": "lines"},
 "transform": [{"lookup": "k", "from": {"data": {"name": "names"}, "key": "k", "fields": ["name"]}}],
 "mark": {"type": "line", "strokeWidth": 4.5, "strokeJoin": "round"},
 "encoding": {
  "x": {"field": "r", "type": "quantitative", "scale": {"domain": [0, 100], "nice": false, "zero": false}, "axis": null},
  "y": {"field": "v", "type": "quantitative", "scale": {"domain": [-0.908, 0.867], "nice": false, "zero": false}, "axis": {"values": [-0.8, -0.4, 0, 0.4], "format": ".1f", "title": "Enrichment Score", "titleY": 238.7, "titleFontSize": 16, "titleFontWeight": "normal", "titleColor": "black", "titlePadding": 5, "labelFontSize": 14, "labelColor": "#4d4d4d", "labelPadding": 2, "tickSize": 4, "tickColor": "#333333", "domain": false, "grid": false}},
  "color": {"field": "name", "type": "nominal",
   "scale": {"domain": ["KEGG_APOPTOSIS","KEGG_B_CELL_RECEPTOR_SIGNALING_PATHWAY","KEGG_BETA_ALANINE_METABOLISM","KEGG_DRUG_METABOLISM_CYTOCHROME_P450","KEGG_FATTY_ACID_METABOLISM","KEGG_FC_GAMMA_R_MEDIATED_PHAGOCYTOSIS","KEGG_GLYCINE_SERINE_AND_THREONINE_METABOLISM","KEGG_GNRH_SIGNALING_PATHWAY","KEGG_HISTIDINE_METABOLISM","KEGG_MAPK_SIGNALING_PATHWAY","KEGG_METABOLISM_OF_XENOBIOTICS_BY_CYTOCHROME_P450","KEGG_NATURAL_KILLER_CELL_MEDIATED_CYTOTOXICITY","KEGG_PATHWAYS_IN_CANCER","KEGG_PEROXISOME","KEGG_PPAR_SIGNALING_PATHWAY","KEGG_PRIMARY_BILE_ACID_BIOSYNTHESIS","KEGG_RETINOL_METABOLISM","KEGG_T_CELL_RECEPTOR_SIGNALING_PATHWAY","KEGG_TGF_BETA_SIGNALING_PATHWAY","KEGG_VEGF_SIGNALING_PATHWAY"],
    "range": ["#5ec6d5","#7b1b2e","#5a89bb","#3e1c3c","#8c6130","#6b5a9c","#d8437b","#d8d56c","#5e4b5f","#7ec46b","#213769","#c9282f","#f7d44b","#2c7b46","#44a851","#6e5466","#8ad4e6","#f6bcc7","#f6b928","#edc9df"]},
   "legend": {"orient": "none", "legendX": 7, "legendY": 1.8, "title": null, "direction": "vertical", "columns": 1, "symbolType": "stroke", "symbolSize": 289, "symbolStrokeWidth": 7, "labelFontSize": 13, "labelColor": "#111111", "labelOffset": 6, "rowPadding": 0, "clipHeight": 21.88, "labelLimit": 600}}
 }},
{"data": {"values": [{}]},
 "mark": {"type": "rule", "color": "black", "strokeWidth": 2},
 "encoding": {"y": {"datum": 0}}},
{"data": {"values": [{}]},
 "mark": {"type": "rule", "color": "black", "strokeWidth": 2},
 "encoding": {"x": {"datum": 0, "type": "quantitative"}, "y": {"datum": -0.908}, "y2": {"datum": 0.744}}},
{"data": {"values": [{}]},
 "mark": {"type": "text", "text": "B", "align": "left", "baseline": "middle", "dx": -47, "dy": -28, "fontSize": 15, "fontWeight": "bold", "color": "black"},
 "encoding": {"x": {"datum": 0, "type": "quantitative"}, "y": {"datum": 0.744, "type": "quantitative"}}}
]
},
{
"width": 667, "height": 118,
"view": {"stroke": null},
"data": {"name": "rug"},
"transform": [{"lookup": "k", "from": {"data": {"name": "names"}, "key": "k", "fields": ["name"]}}],
"mark": {"type": "tick", "thickness": 1.2, "size": 5},
"encoding": {
 "x": {"field": "r", "type": "quantitative", "scale": {"domain": [0, 100], "nice": false, "zero": false}, "axis": {"title": "high expression<----------->low expression", "titleFontSize": 16, "titleFontWeight": "normal", "titleColor": "black", "titlePadding": 2, "labels": false, "ticks": false, "grid": false, "domainColor": "black", "domainWidth": 2.5}},
 "y": {"field": "name", "type": "nominal", "scale": {"domain": ["KEGG_VEGF_SIGNALING_PATHWAY","KEGG_TGF_BETA_SIGNALING_PATHWAY","KEGG_T_CELL_RECEPTOR_SIGNALING_PATHWAY","KEGG_RETINOL_METABOLISM","KEGG_PRIMARY_BILE_ACID_BIOSYNTHESIS","KEGG_PPAR_SIGNALING_PATHWAY","KEGG_PEROXISOME","KEGG_PATHWAYS_IN_CANCER","KEGG_NATURAL_KILLER_CELL_MEDIATED_CYTOTOXICITY","KEGG_METABOLISM_OF_XENOBIOTICS_BY_CYTOCHROME_P450","KEGG_MAPK_SIGNALING_PATHWAY","KEGG_HISTIDINE_METABOLISM","KEGG_GNRH_SIGNALING_PATHWAY","KEGG_GLYCINE_SERINE_AND_THREONINE_METABOLISM","KEGG_FC_GAMMA_R_MEDIATED_PHAGOCYTOSIS","KEGG_FATTY_ACID_METABOLISM","KEGG_DRUG_METABOLISM_CYTOCHROME_P450","KEGG_BETA_ALANINE_METABOLISM","KEGG_B_CELL_RECEPTOR_SIGNALING_PATHWAY","KEGG_APOPTOSIS"], "paddingInner": 0, "paddingOuter": 0}, "axis": null},
 "color": {"field": "name", "type": "nominal",
  "scale": {"domain": ["KEGG_APOPTOSIS","KEGG_B_CELL_RECEPTOR_SIGNALING_PATHWAY","KEGG_BETA_ALANINE_METABOLISM","KEGG_DRUG_METABOLISM_CYTOCHROME_P450","KEGG_FATTY_ACID_METABOLISM","KEGG_FC_GAMMA_R_MEDIATED_PHAGOCYTOSIS","KEGG_GLYCINE_SERINE_AND_THREONINE_METABOLISM","KEGG_GNRH_SIGNALING_PATHWAY","KEGG_HISTIDINE_METABOLISM","KEGG_MAPK_SIGNALING_PATHWAY","KEGG_METABOLISM_OF_XENOBIOTICS_BY_CYTOCHROME_P450","KEGG_NATURAL_KILLER_CELL_MEDIATED_CYTOTOXICITY","KEGG_PATHWAYS_IN_CANCER","KEGG_PEROXISOME","KEGG_PPAR_SIGNALING_PATHWAY","KEGG_PRIMARY_BILE_ACID_BIOSYNTHESIS","KEGG_RETINOL_METABOLISM","KEGG_T_CELL_RECEPTOR_SIGNALING_PATHWAY","KEGG_TGF_BETA_SIGNALING_PATHWAY","KEGG_VEGF_SIGNALING_PATHWAY"],
   "range": ["#5ec6d5","#7b1b2e","#5a89bb","#3e1c3c","#8c6130","#6b5a9c","#d8437b","#d8d56c","#5e4b5f","#7ec46b","#213769","#c9282f","#f7d44b","#2c7b46","#44a851","#6e5466","#8ad4e6","#f6bcc7","#f6b928","#edc9df"]},
  "legend": null}
}
}
]
}
]
}
